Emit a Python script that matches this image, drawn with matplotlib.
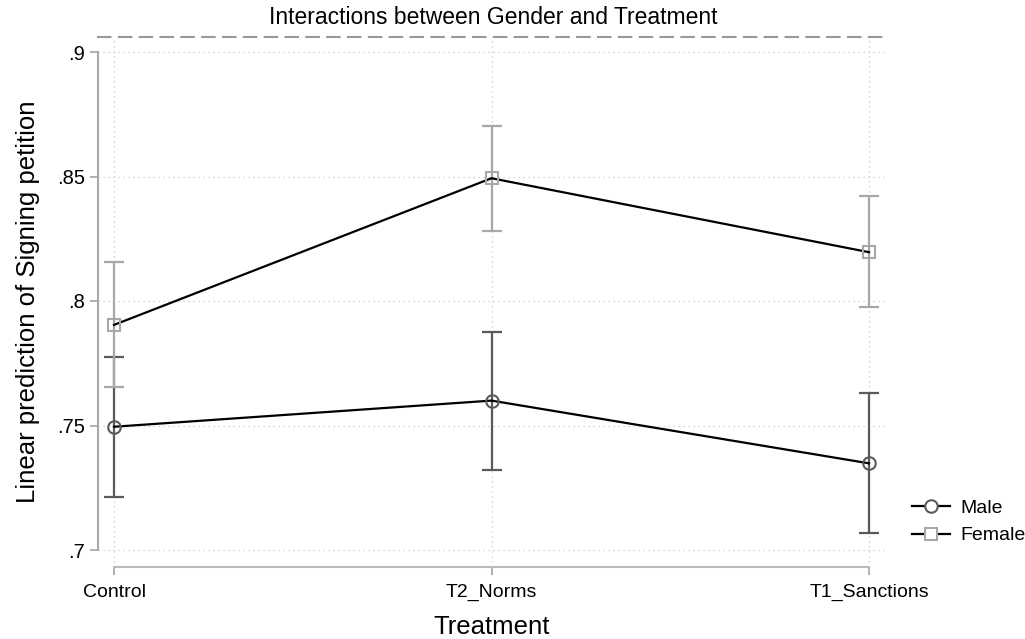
import matplotlib
matplotlib.use("Agg")
import matplotlib.pyplot as plt
import numpy as np
from matplotlib.lines import Line2D

plt.rcParams["font.family"] = ["Liberation Sans", "DejaVu Sans"]

treatments = ["Control", "T2_Norms", "T1_Sanctions"]
male = [0.7495, 0.7600, 0.7348]
male_lo = [0.7214, 0.7323, 0.7070]
male_hi = [0.7775, 0.7877, 0.7630]
female = [0.7904, 0.8493, 0.8196]
female_lo = [0.7653, 0.8282, 0.7975]
female_hi = [0.8155, 0.8703, 0.8422]
yticks = [0.7, 0.75, 0.8, 0.85, 0.9]
ylabels = [".7", ".75", ".8", ".85", ".9"]

fig = plt.figure(figsize=(10.25, 6.39), dpi=100)
W, H = 1025, 639
ax = fig.add_axes([98 / W, 1 - 567 / H, (885 - 98) / W, (567 - 37) / H])

x = np.arange(len(treatments))
male_col = "#5a5a5a"
fem_col = "#a8a8a8"

ax.errorbar(x, male, yerr=[np.array(male) - np.array(male_lo), np.array(male_hi) - np.array(male)],
            fmt="none", ecolor=male_col, elinewidth=1.6, capsize=7, capthick=1.6, zorder=3)
ax.errorbar(x, female, yerr=[np.array(female) - np.array(female_lo), np.array(female_hi) - np.array(female)],
            fmt="none", ecolor=fem_col, elinewidth=1.6, capsize=7, capthick=1.6, zorder=3)
ax.plot(x, male, color="black", lw=1.6, zorder=4)
ax.plot(x, female, color="black", lw=1.6, zorder=4)
ax.plot(x, male, "o", ms=9, mfc="none", mec=male_col, mew=1.5, zorder=5)
ax.plot(x, female, "s", ms=8.5, mfc="none", mec=fem_col, mew=1.5, zorder=5)

ax.set_xlim(-16 / 377.5, (885 - 114) / 377.5)
ax.set_ylim(0.9 - (567 - 52) / 2490, 0.9 + 15 / 2490)
ax.set_xticks(x)
ax.set_xticklabels(treatments, fontsize=14)
ax.set_yticks(yticks)
ax.set_yticklabels(ylabels, fontsize=14.5)

ax.grid(True, linestyle=(0, (1, 3)), color="#c8c8c8", lw=0.9)
ax.set_axisbelow(True)

ax.spines["right"].set_visible(False)
ax.spines["top"].set_linestyle((0, (6, 4)))
ax.spines["top"].set_color("#999999")
ax.spines["top"].set_linewidth(1.5)
ax.spines["left"].set_bounds(0.7, 0.9)
ax.spines["left"].set_color("#aaaaaa")
ax.spines["left"].set_linewidth(1.5)
ax.spines["bottom"].set_bounds(0, 2)
ax.spines["bottom"].set_color("#bbbbbb")
ax.spines["bottom"].set_linewidth(1.5)
ax.tick_params(axis="both", color="#aaaaaa", width=1.3, length=6, direction="out")
ax.tick_params(axis="x", pad=6)

ax.set_ylabel("Linear prediction of Signing petition", fontsize=18.5, labelpad=12)
ax.set_xlabel("Treatment", fontsize=18.5, labelpad=10)
fig.text(493 / W, 1 - 18 / H, "Interactions between Gender and Treatment", ha="center", va="center", fontsize=16.5)

handles = [Line2D([], [], color="black", lw=1.6, marker="o", ms=9, mfc="white", mec=male_col, mew=1.5),
           Line2D([], [], color="black", lw=1.6, marker="s", ms=8.5, mfc="white", mec=fem_col, mew=1.5)]
fig.legend(handles, ["Male", "Female"], loc="center left", bbox_to_anchor=(896 / W, 1 - 522 / H),
           frameon=False, fontsize=14, handlelength=2.0, handletextpad=0.5, labelspacing=0.5,
           borderpad=0.3)

fig.savefig("out.png", dpi=100)
